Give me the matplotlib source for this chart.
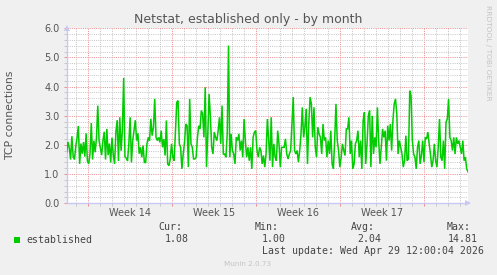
import numpy as np
import matplotlib
matplotlib.use("Agg")
import matplotlib.pyplot as plt
from matplotlib.ticker import MultipleLocator, FixedLocator, NullFormatter

# ---------------- data ----------------
title = "Netstat, established only - by month"
ylabel = "TCP connections"
series_name = "established"
week_labels = ["Week 14", "Week 15", "Week 16", "Week 17"]
y_ticks = [0, 1, 2, 3, 4, 5, 6]
stats_labels = ["Cur:", "Min:", "Avg:", "Max:"]
stats_values = ["1.08", "1.00", "2.04", "14.81"]
last_update = "Last update: Wed Apr 29 12:00:04 2026"
version = "Munin 2.0.73"

span_days = 33.44          # visible time span (days)
first_week_start = 1.8     # first week boundary (days from left)

established = [
    # first part
    1.75, 2.1, 1.9, 1.5, 2.3, 1.6, 1.5, 1.95, 2.25, 2.65, 1.35, 2.05, 1.7, 2.1, 1.6, 2.4,
    1.45, 1.35, 1.7, 2.75, 1.5, 2.15, 1.75, 2.25, 3.35, 2.15, 1.9, 1.65, 2.15, 2.45, 1.5,
    2.55, 1.65, 2.05, 1.4, 2.25, 1.65, 1.35, 2.45, 2.85, 1.45, 2.95, 1.8, 2.5, 4.3, 1.6,
    1.55, 1.45, 2.05, 2.95, 1.4, 2.15, 2.5, 2.85, 2.15, 2.4, 1.7, 1.92, 1.58, 1.98, 1.4,
    1.4, 2.04, 2.26, 2.15, 2.9, 2.32, 2.6, 3.58, 2.26, 2.15, 2.26, 2.09, 2.49, 1.92, 2.2,
    1.64,
    # second part
    2.84, 1.35, 1.29, 1.52, 2.04, 1.58, 1.46, 2.49, 3.46, 3.52, 2.04, 1.92, 1.18, 1.69,
    2.09, 2.72, 2.66, 1.24, 3.58, 2.04, 1.92, 1.52, 1.52, 1.58, 2.26, 2.66, 2.55, 3.18,
    3.06, 2.26, 3.98, 1.24, 2.38, 3.75, 2.95, 1.92, 1.69, 2.44, 2.26, 2.15, 2.49, 2.95,
    2.04, 3.35, 1.69, 1.69, 1.58, 2.38, 5.41, 1.58, 2.38, 1.81, 1.69, 1.35, 2.26, 2.15,
    2.38, 1.81, 2.15, 1.58, 2.89, 2.15, 1.58, 1.92, 1.46, 1.92, 1.18, 2.26, 2.44, 2.49,
    1.81, 1.58, 1.92, 1.81, 1.35, 1.64, 1.24, 1.69, 2.89,
    # third part
    2.15, 1.46, 2.95, 1.24, 2.04, 1.58, 1.46, 2.49, 2.04, 1.24, 1.92, 1.92, 1.92, 2.21,
    1.69, 1.52, 1.69, 1.81, 2.72, 3.64, 1.81, 1.69, 1.81, 1.41, 1.81, 2.38, 3.29, 2.26,
    2.61, 3.24, 1.35, 2.72, 3.64, 3.41, 2.26, 3.29, 1.92, 1.58, 2.61, 2.38, 2.26, 1.69,
    2.72, 2.15, 2.26, 1.58, 2.15, 1.69, 2.49, 1.35, 1.18, 2.15, 3.41, 2.15, 1.81, 1.24,
    1.58, 2.04, 1.81, 1.64, 2.55, 2.55, 2.95, 1.69, 2.15, 1.18, 1.35, 2.04, 2.15, 2.49,
    1.58, 2.15, 1.18, 2.84, 3.12, 1.35, 2.04, 3.0,
    # fourth part
    3.18, 1.24, 3.0, 1.69, 2.26, 1.92, 3.29, 2.15, 1.35, 1.92, 2.55, 2.26, 2.49, 1.46,
    2.66, 2.15, 2.72, 1.81, 2.84, 3.41, 3.58, 3.06, 1.69, 2.15, 1.92, 1.69, 1.24, 1.46,
    2.32, 1.46, 1.52, 3.86, 3.69, 2.15, 1.69, 1.58, 1.18, 1.92, 2.15, 1.35, 1.64, 2.15,
    1.41, 2.26, 2.21, 2.44, 2.04, 1.69, 1.24, 1.46, 2.04, 1.46, 1.24, 1.92, 2.89, 1.58,
    1.46, 2.15, 1.18, 2.78, 2.89, 3.58, 2.26, 2.15, 1.81, 2.26, 1.69, 2.26, 2.04, 2.15,
    1.92, 1.69, 2.15, 1.46, 1.58, 1.18, 1.08,
]

# ---------------- styling ----------------
W, H = 497, 275
BG = "#F0F0F0"
LINE = "#00CC00"
MAJ = "#EE9090"
MIN = "#C8C8C8"
AXIS = "#C8C8F0"
TXT = "#555555"

fig = plt.figure(figsize=(W / 100, H / 100), dpi=100, facecolor=BG)
L, R, T, B = 66.7, 468.0, 28.3, 203.3
ax = fig.add_axes([L / W, (H - B) / H, (R - L) / W, (B - T) / H])
ax.set_facecolor("white")

x = np.linspace(0, span_days, len(established))
ax.plot(x, established, color=LINE, lw=1.1, solid_joinstyle="miter", zorder=3)

ax.set_xlim(0, span_days)
ax.set_ylim(0, 6)

# grid
week_bounds = [first_week_start + 7 * k for k in range(5)]
day_lines = [first_week_start + d for d in np.arange(-1, 33) if 0 < first_week_start + d < span_days]
ax.xaxis.set_major_locator(FixedLocator(week_bounds))
ax.xaxis.set_minor_locator(FixedLocator(day_lines))
ax.xaxis.set_major_formatter(NullFormatter())
ax.yaxis.set_major_locator(FixedLocator(y_ticks))
ax.yaxis.set_minor_locator(MultipleLocator(0.2))
ax.set_yticklabels([f"{v:.1f}" for v in y_ticks])

ax.grid(which="minor", color=MIN, lw=0.72, linestyle=(0, (1, 1.2)), zorder=1)
ax.grid(which="major", color=MAJ, lw=0.72, linestyle=(0, (1, 1.2)), zorder=2)
ax.set_axisbelow(True)

ax.tick_params(which="major", length=2, width=0.72, color=MAJ, labelcolor=TXT,
               labelsize=7, pad=3.3)
ax.tick_params(which="minor", length=2, width=0.72, color=MIN)

for s in ["top", "right"]:
    ax.spines[s].set_visible(False)
for s in ["left", "bottom"]:
    ax.spines[s].set_color(AXIS)
    ax.spines[s].set_linewidth(1.0)

# arrows
ax.plot([0], [1.0], transform=ax.transAxes, marker="^", ms=5, color=AXIS,
        clip_on=False, zorder=5, markeredgewidth=0)
ax.plot([1.0], [0], transform=ax.transAxes, marker=">", ms=5, color=AXIS,
        clip_on=False, zorder=5, markeredgewidth=0)

# week labels
for k, lab in enumerate(week_labels):
    ax.text(week_bounds[k] + 3.5, -0.055, lab, transform=ax.get_xaxis_transform(),
            ha="center", va="center", fontsize=7, color=TXT)

# titles
fig.text(248 / W, 1 - 19 / H, title, ha="center", va="center", fontsize=9, color=TXT)
fig.text(10.5 / W, 1 - 115.5 / H, ylabel, ha="center", va="center", rotation=90,
         fontsize=7.8, color=TXT)
fig.text(488 / W, 1 - 53 / H, "RRDTOOL / TOBI OETIKER", ha="center", va="center",
         rotation=270, fontsize=5.4, color="#C4C4C4")

# legend
mono = "DejaVu Sans Mono"
LEG = "#444444"
fig.patches.append(plt.Rectangle((14 / W, 1 - 243 / H), 6 / W, 6 / H, transform=fig.transFigure,
                                 facecolor=LINE, edgecolor="none"))
fig.text(26 / W, 1 - 240 / H, series_name, ha="left", va="center", family=mono,
         fontsize=7.1, color=LEG)
hdr_x = [158.3, 255.0, 351.0, 446.7]
val_x = [164.3, 261.7, 357.3, 447.3]
for hx, vx, h, v in zip(hdr_x, val_x, stats_labels, stats_values):
    fig.text(hx / W, 1 - 227.5 / H, h, ha="left", va="center", family=mono,
             fontsize=7.1, color=LEG)
    fig.text(vx / W, 1 - 239.5 / H, v, ha="left", va="center", family=mono,
             fontsize=7.1, color=LEG)
fig.text(261.7 / W, 1 - 251.5 / H, last_update, ha="left", va="center", family=mono,
         fontsize=7.1, color=LEG)
fig.text(248 / W, 1 - 264 / H, version, ha="center", va="center", fontsize=5.2,
         color="#C4C4C4")

fig.savefig("out.png", dpi=100, facecolor=BG)
